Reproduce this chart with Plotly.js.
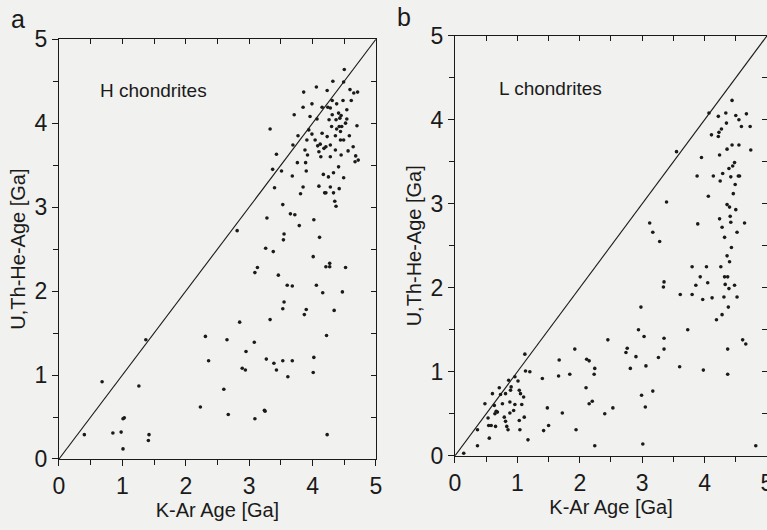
<!DOCTYPE html>
<html>
<head>
<meta charset="utf-8">
<script src="https://cdn.plot.ly/plotly-3.0.1.min.js"></script>
<style>html,body{margin:0;padding:0;background:#f1f1ef;}#chart{width:767px;height:530px;}</style>
</head>
<body>
<div id="chart"></div>
<script>
// Panel a: H chondrites (K-Ar age, U,Th-He age) in Ga
const hKAr = [0.40,0.68,0.85,0.98,1.01,1.03,1.01,1.26,1.42,1.41,1.37,2.23,2.31,2.36,2.60,2.65,2.67,2.81,2.85,2.89,2.94,2.95,3.08,3.09,3.09,3.13,3.26,3.27,3.24,3.25,3.28,3.33,3.33,3.37,3.38,3.39,3.40,3.43,3.43,3.46,3.51,3.53,3.53,3.53,3.54,3.55,3.55,3.60,3.61,3.68,3.68,3.68,3.69,3.71,3.65,3.72,3.76,3.77,3.79,3.81,3.85,3.86,3.85,3.87,3.89,3.90,3.90,3.88,3.91,3.92,3.94,3.96,3.99,3.99,4.01,4.01,4.02,4.02,4.04,4.06,4.06,4.07,4.08,4.10,4.11,4.13,4.15,4.15,4.16,4.17,4.19,4.21,4.21,4.22,4.23,4.23,4.24,4.25,4.26,4.27,4.27,4.28,4.28,4.28,4.31,4.32,4.33,4.33,4.34,4.35,4.37,4.36,4.37,4.38,4.41,4.42,4.44,4.45,4.46,4.47,4.48,4.49,4.50,4.49,4.52,4.54,4.56,4.59,4.61,4.64,4.65,4.67,4.68,4.70,4.71,4.72,4.58,4.41,4.43,4.45,4.42,4.38,4.44,4.30,4.31,4.28,4.23,4.21,4.52,4.54,4.49,4.18,4.12,4.36,4.10];
const hUThHe = [0.29,0.92,0.31,0.32,0.48,0.49,0.12,0.87,0.29,0.22,1.42,0.62,1.46,1.17,0.83,1.42,0.53,2.72,1.63,1.08,1.06,1.28,1.39,0.48,2.22,2.28,2.51,1.19,0.58,0.57,2.87,3.93,1.66,3.45,2.47,1.14,3.23,3.63,1.06,2.19,3.43,3.03,1.79,1.17,2.61,2.68,1.87,2.07,0.98,2.06,3.37,1.17,3.74,4.10,2.92,2.91,3.53,3.85,2.78,3.16,3.24,4.37,4.19,1.72,3.53,3.43,1.78,3.68,3.80,3.62,3.92,4.08,4.23,3.87,2.41,1.03,2.85,1.21,3.80,4.43,2.07,4.05,3.73,3.66,2.64,3.60,4.19,3.88,1.98,3.39,3.17,2.29,3.17,1.47,0.29,4.39,4.19,3.36,4.04,2.29,2.33,3.74,3.60,3.24,4.27,4.50,3.17,3.41,1.77,3.07,3.01,3.85,4.04,4.23,3.48,3.22,3.80,3.62,3.96,1.99,4.27,3.35,4.64,4.49,2.28,4.05,3.67,4.40,4.27,3.72,4.36,3.54,3.61,3.97,4.37,3.56,3.85,4.12,4.06,4.09,3.96,3.93,3.90,3.96,4.10,4.18,3.84,3.72,4.00,4.16,3.80,3.70,3.75,3.68,3.25];

// Panel b: L chondrites
const lKAr = [0.14,0.36,0.36,0.48,0.54,0.55,0.53,0.58,0.60,0.63,0.64,0.65,0.66,0.68,0.71,0.73,0.76,0.79,0.81,0.81,0.83,0.85,0.86,0.88,0.88,0.89,0.90,0.94,0.96,0.96,1.01,1.03,1.03,1.04,1.05,1.07,1.10,1.11,1.12,1.13,1.17,1.20,1.40,1.42,1.48,1.50,1.67,1.66,1.72,1.84,1.92,1.94,2.10,2.11,2.15,2.15,2.20,2.23,2.24,2.24,2.40,2.45,2.53,2.74,2.76,2.81,2.90,2.94,2.98,2.99,3.01,3.03,3.05,3.06,3.12,3.17,3.17,3.26,3.28,3.34,3.35,3.35,3.35,3.39,3.55,3.61,3.60,3.73,3.80,3.80,3.86,3.88,3.89,3.93,3.95,3.97,3.98,4.03,4.05,4.06,4.07,4.11,4.12,4.14,4.19,4.22,4.22,4.23,4.24,4.24,4.25,4.26,4.27,4.28,4.28,4.29,4.31,4.32,4.32,4.33,4.34,4.36,4.36,4.36,4.37,4.37,4.37,4.38,4.39,4.39,4.40,4.40,4.41,4.42,4.42,4.43,4.44,4.44,4.45,4.46,4.48,4.49,4.50,4.50,4.52,4.52,4.54,4.55,4.56,4.55,4.59,4.61,4.64,4.66,4.67,4.73,4.74,4.82,4.35,4.48];
const lUThHe = [0.03,0.12,0.31,0.62,0.36,0.21,0.45,0.36,0.74,0.60,0.50,0.35,0.53,0.52,0.81,0.73,0.62,0.46,0.74,0.41,0.35,0.31,0.90,0.51,0.64,0.78,0.82,0.54,0.61,0.94,0.89,0.78,0.42,0.31,0.74,0.61,0.70,0.46,1.21,1.01,0.19,1.00,0.92,0.30,0.57,0.36,1.14,0.95,0.51,0.97,1.27,0.31,0.81,1.15,1.13,0.62,0.65,0.97,1.04,0.12,0.50,1.38,0.57,1.23,1.28,1.04,1.18,1.50,1.77,0.72,0.14,1.42,0.58,1.07,2.77,2.66,0.77,1.17,2.55,2.01,2.07,1.40,1.27,3.02,3.62,1.92,1.06,1.50,2.25,1.92,2.03,3.33,2.76,2.13,3.55,1.86,1.02,2.25,2.06,3.09,4.08,3.82,1.88,3.33,1.62,3.80,4.04,3.85,3.58,2.82,3.27,2.25,3.89,1.68,2.72,3.36,1.89,2.60,2.13,2.04,4.08,3.65,2.99,2.38,1.27,0.97,2.13,1.77,3.42,1.99,2.96,2.31,2.85,2.78,3.32,2.48,4.23,3.70,3.45,3.12,2.03,3.23,2.93,4.05,1.89,2.66,3.33,3.70,3.33,4.00,3.92,1.38,2.77,1.33,4.07,3.92,3.64,0.12,3.96,3.49];

const diagX = [0, 5];
const diagY = [0, 5];
const tickVals = [0, 1, 2, 3, 4, 5];
const tickText = ['0', '1', '2', '3', '4', '5'];

const FONT = 'Liberation Sans, Arial, Helvetica, sans-serif';
const INK = '#1a1a1a';
const BG = '#f1f1ef';

const mk = {color: INK, size: 3.6, symbol: 'circle'};
const traces = [
  {x: hKAr, y: hUThHe, type: 'scatter', mode: 'markers', marker: mk, xaxis: 'x', yaxis: 'y', hoverinfo: 'x+y'},
  {x: diagX, y: diagY, type: 'scatter', mode: 'lines', line: {color: INK, width: 1.1}, xaxis: 'x3', yaxis: 'y3'},
  {x: lKAr, y: lUThHe, type: 'scatter', mode: 'markers', marker: mk, xaxis: 'x2', yaxis: 'y2', hoverinfo: 'x+y'},
  {x: diagX, y: diagY, type: 'scatter', mode: 'lines', line: {color: INK, width: 1.1}, xaxis: 'x4', yaxis: 'y4'}
];

const axBase = {
  range: [0, 5], showgrid: false, zeroline: false, showline: true,
  linecolor: INK, linewidth: 1.2, ticks: 'outside', ticklen: 6, tickwidth: 1, tickcolor: INK,
  tickmode: 'array', tickvals: tickVals, ticktext: tickText,
  minor: {dtick: 0.5, ticks: 'outside', ticklen: 5, tickcolor: INK, tickwidth: 1, showgrid: false},
  tickfont: {family: FONT, size: 23, color: INK}, fixedrange: true, ticklabeloverflow: 'allow'
};
const mirrorBase = {
  range: [0, 5], showgrid: false, zeroline: false, showline: true,
  linecolor: INK, linewidth: 1.2, ticks: 'inside', ticklen: 5, tickcolor: INK, tickwidth: 1,
  dtick: 0.5, tick0: 0, showticklabels: false, fixedrange: true
};
const xTitle = {text: 'K-Ar Age [Ga]', font: {family: FONT, size: 20, color: INK}, standoff: 2};
const yTitle = {text: 'U,Th-He-Age [Ga]', font: {family: FONT, size: 20, color: INK}, standoff: 3};

const dA = [0.0769, 0.4902], yA = [0.134, 0.926];
const dB = [0.5932, 1.0], yB = [0.140, 0.9326];

const layout = {
  width: 767, height: 530,
  margin: {l: 0, r: 0, t: 0, b: 0},
  paper_bgcolor: BG, plot_bgcolor: BG,
  showlegend: false,
  font: {family: FONT, color: INK},
  xaxis: Object.assign({}, axBase, {domain: dA, anchor: 'y', title: xTitle}),
  yaxis: Object.assign({}, axBase, {domain: yA, anchor: 'x', title: yTitle}),
  xaxis2: Object.assign({}, axBase, {domain: dB, anchor: 'y2', title: xTitle}),
  yaxis2: Object.assign({}, axBase, {domain: yB, anchor: 'x2', title: yTitle}),
  xaxis3: Object.assign({}, mirrorBase, {overlaying: 'x', side: 'top', anchor: 'y3'}),
  yaxis3: Object.assign({}, mirrorBase, {overlaying: 'y', side: 'right', anchor: 'x3'}),
  xaxis4: Object.assign({}, mirrorBase, {overlaying: 'x2', side: 'top', anchor: 'y4'}),
  yaxis4: Object.assign({}, mirrorBase, {overlaying: 'y2', side: 'right', anchor: 'x4'}),
  annotations: [
    {text: 'H chondrites', xref: 'x', yref: 'y', x: 0.61, y: 4.39, xanchor: 'left', yanchor: 'middle', showarrow: false, font: {family: FONT, size: 19, color: INK}},
    {text: 'L chondrites', xref: 'x2', yref: 'y2', x: 0.67, y: 4.37, xanchor: 'left', yanchor: 'middle', showarrow: false, font: {family: FONT, size: 19, color: INK}},
    {text: 'a', xref: 'paper', yref: 'paper', x: 18 / 767, y: 1 - 19 / 530, xanchor: 'center', yanchor: 'middle', showarrow: false, font: {family: FONT, size: 25, color: INK}},
    {text: 'b', xref: 'paper', yref: 'paper', x: 404 / 767, y: 1 - 17 / 530, xanchor: 'center', yanchor: 'middle', showarrow: false, font: {family: FONT, size: 25, color: INK}}
  ]
};

Plotly.newPlot('chart', traces, layout, {displayModeBar: false, staticPlot: true});
</script>
</body>
</html>
